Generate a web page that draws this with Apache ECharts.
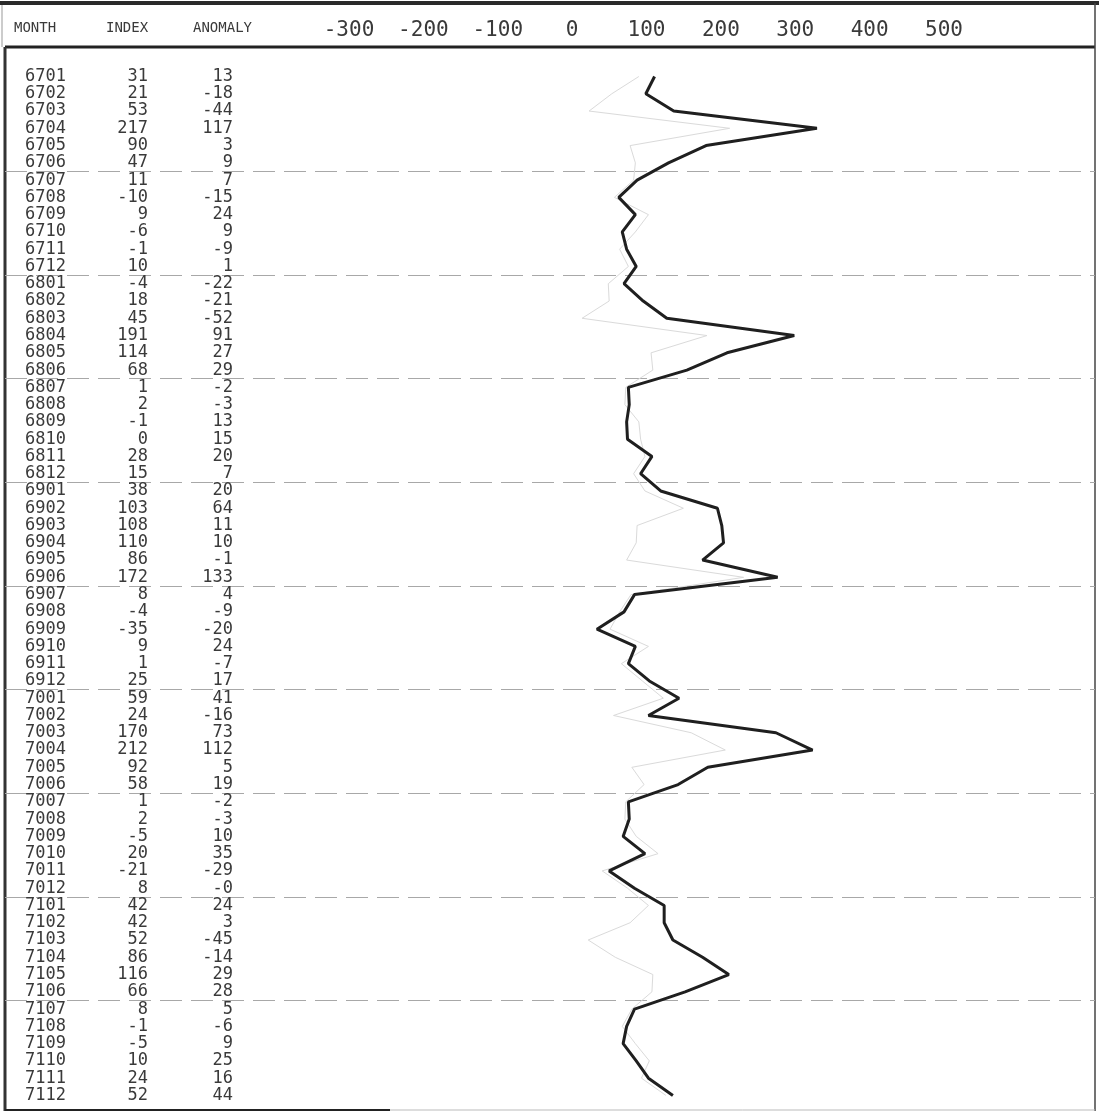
<!DOCTYPE html>
<html>
<head>
<meta charset="utf-8">
<script src="https://cdn.jsdelivr.net/npm/echarts@6/dist/echarts.min.js"></script>
<style>
html,body{margin:0;padding:0;background:#fff;}
#chart{width:1099px;height:1114px;}
</style>
</head>
<body>
<div id="chart"></div>
<script>
// ---- data ----
const months = [
  "6701","6702","6703","6704","6705","6706","6707","6708","6709","6710","6711","6712",
  "6801","6802","6803","6804","6805","6806","6807","6808","6809","6810","6811","6812",
  "6901","6902","6903","6904","6905","6906","6907","6908","6909","6910","6911","6912",
  "7001","7002","7003","7004","7005","7006","7007","7008","7009","7010","7011","7012",
  "7101","7102","7103","7104","7105","7106","7107","7108","7109","7110","7111","7112"
];
const indexValues = [
  31,21,53,217,90,47,11,-10,9,-6,-1,10,
  -4,18,45,191,114,68,1,2,-1,0,28,15,
  38,103,108,110,86,172,8,-4,-35,9,1,25,
  59,24,170,212,92,58,1,2,-5,20,-21,8,
  42,42,52,86,116,66,8,-1,-5,10,24,52
];
const anomalyValues = [
  "13","-18","-44","117","3","9","7","-15","24","9","-9","1",
  "-22","-21","-52","91","27","29","-2","-3","13","15","20","7",
  "20","64","11","10","-1","133","4","-9","-20","24","-7","17",
  "41","-16","73","112","5","19","-2","-3","10","35","-29","-0",
  "24","3","-45","-14","29","28","5","-6","9","25","16","44"
];
const scaleTicks = [-300, -200, -100, 0, 100, 200, 300, 400, 500];
const columnHeaders = ["MONTH", "INDEX", "ANOMALY"];

// ---- layout ----
const ROW = 17.27;
const GRID_TOP = 76.5 - ROW / 2;
const PX_PER_UNIT = 0.873;
const ZERO_X = 627.5;
const G_LEFT = 5, G_RIGHT_X = 1095;
const xMin = -(ZERO_X - G_LEFT) / PX_PER_UNIT;
const xMax = (G_RIGHT_X - ZERO_X) / PX_PER_UNIT;
const MONO = '"DejaVu Sans Mono", "Liberation Mono", monospace';
const INK = '#3a3a3a';

const chart = echarts.init(document.getElementById('chart'), null, {renderer: 'canvas'});

const hidden = {show: false};
function tableAxis(offset, align, fmt) {
  return {
    type: 'category', gridIndex: 0, data: months, inverse: true, position: 'left',
    offset: offset, boundaryGap: true,
    axisLine: hidden, axisTick: hidden, splitLine: hidden,
    axisLabel: {
      show: true, margin: 0, align: align, interval: 0,
      fontFamily: MONO, fontSize: 17, color: INK,
      formatter: fmt
    }
  };
}

const option = {
  backgroundColor: '#ffffff',
  animation: false,
  grid: [
    {left: G_LEFT, width: G_RIGHT_X - G_LEFT, top: GRID_TOP, height: ROW * months.length},
    {left: 349, width: 595, top: 44, height: 2}
  ],
  xAxis: [
    {type: 'value', gridIndex: 0, min: xMin, max: xMax,
     axisLine: hidden, axisTick: hidden, axisLabel: hidden, splitLine: hidden},
    {type: 'value', gridIndex: 1, position: 'top', min: scaleTicks[0], max: scaleTicks[scaleTicks.length - 1],
     interval: 100, axisLine: hidden, axisTick: hidden, splitLine: hidden,
     axisLabel: {show: true, margin: 3, fontFamily: MONO, fontSize: 21, color: INK, showMinLabel: true, showMaxLabel: true}}
  ],
  yAxis: [
    {type: 'category', gridIndex: 0, data: months, inverse: true, boundaryGap: true,
     axisLine: hidden, axisTick: hidden, axisLabel: hidden,
     splitLine: {show: true, showMaxLine: false,
                 interval: function (i) { return i > 0 && i < months.length && i % 6 === 0; },
                 lineStyle: {color: '#a8a8a8', width: 1, type: [22, 9]}}},
    tableAxis(-20, 'left', function (v) { return v; }),
    tableAxis(-143, 'right', function (v, i) { return String(indexValues[i]); }),
    tableAxis(-228, 'right', function (v, i) { return anomalyValues[i]; }),
    {type: 'value', gridIndex: 1, show: false}
  ],
  series: [
    {
      name: 'ANOMALY', type: 'line', xAxisIndex: 0, yAxisIndex: 0,
      data: anomalyValues.map(function (v, i) { return [Number(v), months[i]]; }),
      symbol: 'none', lineStyle: {color: '#dadada', width: 1}, z: 1, silent: true
    },
    {
      name: 'INDEX', type: 'line', xAxisIndex: 0, yAxisIndex: 0,
      data: indexValues.map(function (v, i) { return [v, months[i]]; }),
      symbol: 'none', lineStyle: {color: '#1f1f1f', width: 3}, z: 3, silent: true
    }
  ],
  graphic: [
    {type: 'text', x: 14, y: 28, style: {text: columnHeaders[0], font: '14px ' + MONO, fill: INK, verticalAlign: 'middle'}},
    {type: 'text', x: 106, y: 28, style: {text: columnHeaders[1], font: '14px ' + MONO, fill: INK, verticalAlign: 'middle'}},
    {type: 'text', x: 193, y: 28, style: {text: columnHeaders[2], font: '14px ' + MONO, fill: INK, verticalAlign: 'middle'}},
    {type: 'line', shape: {x1: 0, y1: 3, x2: 1099, y2: 3}, style: {stroke: '#2a2a2a', lineWidth: 4}},
    {type: 'line', shape: {x1: 5, y1: 47, x2: 1095, y2: 47}, style: {stroke: '#222', lineWidth: 3}},
    {type: 'line', shape: {x1: 5, y1: 47, x2: 5, y2: 1111}, style: {stroke: '#333', lineWidth: 3}},
    {type: 'line', shape: {x1: 2, y1: 5, x2: 2, y2: 47}, style: {stroke: '#999', lineWidth: 1}},
    {type: 'line', shape: {x1: 1095, y1: 3, x2: 1095, y2: 1111}, style: {stroke: '#444', lineWidth: 1.5}},
    {type: 'line', shape: {x1: 5, y1: 1110, x2: 390, y2: 1110}, style: {stroke: '#222', lineWidth: 2}},
    {type: 'line', shape: {x1: 390, y1: 1110, x2: 1095, y2: 1110}, style: {stroke: '#bbb', lineWidth: 1}}
  ]
};
chart.setOption(option);
</script>
</body>
</html>
